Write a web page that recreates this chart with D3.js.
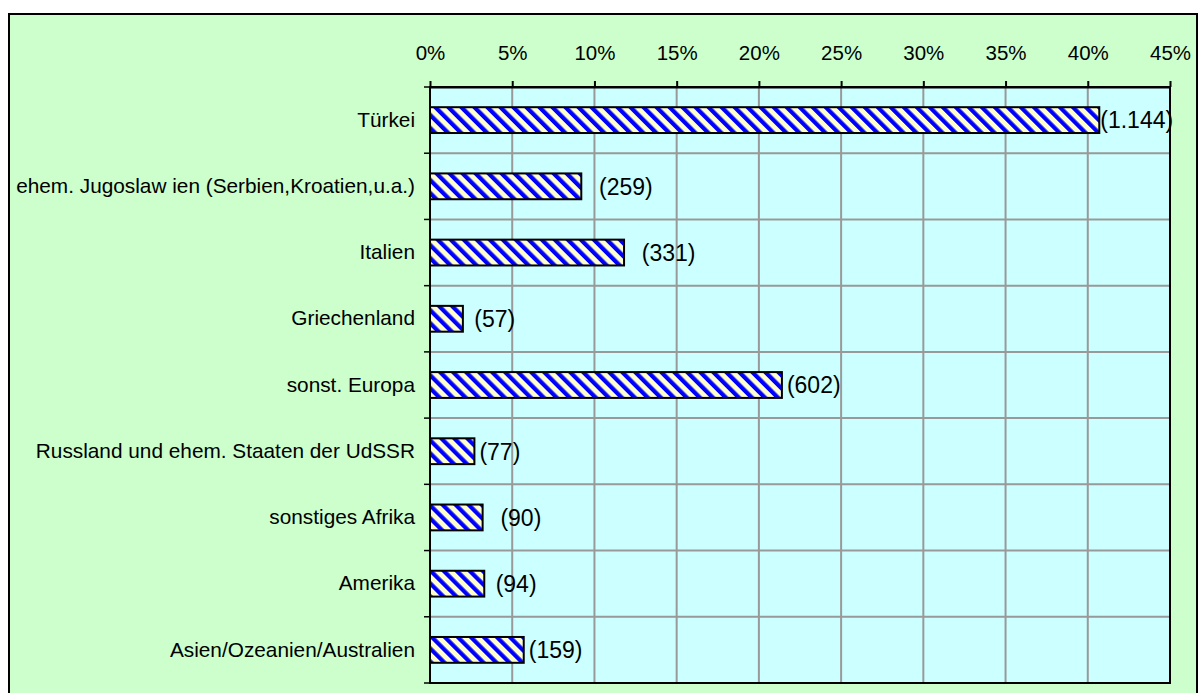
<!DOCTYPE html>
<html>
<head>
<meta charset="utf-8">
<script src="https://cdn.jsdelivr.net/npm/d3@7"></script>
<style>
  html, body { margin: 0; padding: 0; background: #fff; }
  svg { display: block; }
  text { font-family: "Liberation Sans", Arial, sans-serif; fill: #000; }
</style>
</head>
<body>
<svg id="chart" width="1199" height="693"></svg>
<script>
// ---- data ----
const categories = [
  "Türkei",
  "ehem. Jugoslaw ien (Serbien,Kroatien,u.a.)",
  "Italien",
  "Griechenland",
  "sonst. Europa",
  "Russland und ehem. Staaten der UdSSR",
  "sonstiges Afrika",
  "Amerika",
  "Asien/Ozeanien/Australien"
];
const shares = [40.7, 9.2, 11.8, 2.0, 21.4, 2.7, 3.2, 3.3, 5.7]; // percent
const valueLabels = ["(1.144)", "  (259)", "  (331)", " (57)", "(602)", "(77)", "  (90)", " (94)", "(159)"];
const tickValues = [0, 5, 10, 15, 20, 25, 30, 35, 40, 45];

// ---- layout ----
const W = 1199, H = 693;
const plot = { left: 430, right: 1170, top: 87, bottom: 683 };

const svg = d3.select("#chart");
const defs = svg.append("defs");
const P = 9.2;
const pat = defs.append("pattern")
  .attr("id", "stripes")
  .attr("patternUnits", "userSpaceOnUse")
  .attr("width", P).attr("height", P)
  .attr("patternTransform", "rotate(-45)");
pat.append("rect").attr("width", P).attr("height", P).attr("fill", "#FFFFCC");
pat.append("rect").attr("width", 4.2).attr("height", P).attr("fill", "#0000FF");

// outer chart area
svg.append("rect")
  .attr("x", 9).attr("y", 14).attr("width", 1188).attr("height", 700)
  .attr("fill", "#CCFFCC").attr("stroke", "#000").attr("stroke-width", 2);

const x = d3.scaleLinear().domain([0, 45]).range([plot.left, plot.right]);
const y = d3.scaleBand().domain(categories).range([plot.top, plot.bottom]).padding(0);
const step = y.step();
const barH = step * 0.39;

// plot background
svg.append("rect")
  .attr("x", plot.left).attr("y", plot.top)
  .attr("width", plot.right - plot.left).attr("height", plot.bottom - plot.top)
  .attr("fill", "#CCFFFF");

// vertical grid
svg.append("g").selectAll("line").data(tickValues.slice(1)).join("line")
  .attr("x1", d => x(d)).attr("x2", d => x(d))
  .attr("y1", plot.top).attr("y2", plot.bottom)
  .attr("stroke", "#999").attr("stroke-width", 2);

// horizontal grid at category boundaries
const boundaries = categories.map(c => y(c)).concat([plot.bottom]);
svg.append("g").selectAll("line").data(boundaries.slice(1, -1)).join("line")
  .attr("x1", plot.left).attr("x2", plot.right)
  .attr("y1", d => d).attr("y2", d => d)
  .attr("stroke", "#999").attr("stroke-width", 2);

// plot border
svg.append("rect")
  .attr("x", plot.left).attr("y", plot.top)
  .attr("width", plot.right - plot.left).attr("height", plot.bottom - plot.top)
  .attr("fill", "none").attr("stroke", "#000").attr("stroke-width", 2);

// bars
svg.append("g").selectAll("rect").data(categories).join("rect")
  .attr("x", x(0))
  .attr("y", c => y(c) + (step - barH) / 2)
  .attr("width", (c, i) => x(shares[i]) - x(0))
  .attr("height", barH)
  .attr("fill", "url(#stripes)")
  .attr("stroke", "#000").attr("stroke-width", 2);

// value labels
svg.append("g").selectAll("text").data(categories).join("text")
  .attr("x", (c, i) => x(shares[i]) + (i === 0 ? 1 : 5))
  .attr("y", c => y(c) + step / 2)
  .attr("dy", "0.36em")
  .style("white-space", "pre")
  .attr("font-size", 23)
  .text((c, i) => valueLabels[i]);

// top axis
const xAxis = d3.axisTop(x)
  .tickValues(tickValues)
  .tickFormat(d => d + "%")
  .tickSizeInner(6).tickSizeOuter(0)
  .tickPadding(21);
const gx = svg.append("g").attr("transform", `translate(0,${plot.top})`).call(xAxis);
gx.select(".domain").attr("stroke", "#000").attr("stroke-width", 2);
gx.selectAll(".tick line").attr("stroke", "#000").attr("stroke-width", 2);
gx.selectAll(".tick text")
  .attr("font-family", "Liberation Sans, Arial, sans-serif")
  .attr("font-size", 20.5).attr("fill", "#000");

// left axis line and boundary ticks
svg.append("line")
  .attr("x1", plot.left).attr("x2", plot.left)
  .attr("y1", plot.top).attr("y2", plot.bottom)
  .attr("stroke", "#000").attr("stroke-width", 2);
svg.append("g").selectAll("line").data(boundaries).join("line")
  .attr("x1", plot.left - 6).attr("x2", plot.left)
  .attr("y1", d => d).attr("y2", d => d)
  .attr("stroke", "#000").attr("stroke-width", 1.5);

// category labels
const yAxis = d3.axisLeft(y).tickSize(0).tickPadding(15);
const gy = svg.append("g").attr("transform", `translate(${plot.left},0)`).call(yAxis);
gy.select(".domain").remove();
gy.selectAll(".tick text")
  .attr("font-family", "Liberation Sans, Arial, sans-serif")
  .attr("font-size", 20.8).attr("fill", "#000");
</script>
</body>
</html>
